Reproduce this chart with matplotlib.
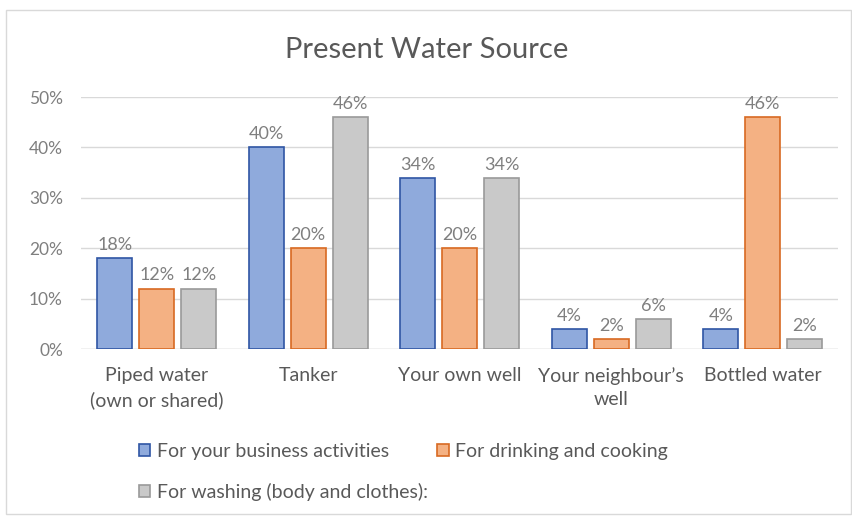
import matplotlib
matplotlib.use("Agg")
import matplotlib.pyplot as plt
from matplotlib.patches import Rectangle
import numpy as np

plt.rcParams['font.family'] = ['Lato', 'DejaVu Sans']

categories = ["Piped water\n(own or shared)", "Tanker", "Your own well", "Your neighbour\u2019s\nwell", "Bottled water"]
series_names = ["For your business activities", "For drinking and cooking", "For washing (body and clothes):"]
business = [18, 40, 34, 4, 4]
drinking = [12, 20, 20, 2, 46]
washing = [12, 46, 34, 6, 2]
yticks = [0, 10, 20, 30, 40, 50]
ytick_labels = ["0%", "10%", "20%", "30%", "40%", "50%"]
title = "Present Water Source"

fills = ["#8FAADC", "#F4B183", "#C9C9C9"]
edges = ["#2F55A4", "#D86A22", "#9A9A9A"]
txt = "#7F7F7F"

fig = plt.figure(figsize=(8.53, 5.20), dpi=100)
fig.patches.append(Rectangle((6/853, 6/520), 845/853, 504/520, transform=fig.transFigure,
                             fill=False, edgecolor="#D9D9D9", linewidth=1))
ax = fig.add_axes([81/853, 171/520, 757.5/853, 252/520])

x = np.arange(len(categories))
w = 0.231
step = 0.277
handles = []
for i, (vals, fc, ec, name) in enumerate(zip([business, drinking, washing], fills, edges, series_names)):
    bars = ax.bar(x + (i - 1) * step, vals, width=w, color=fc, edgecolor=ec, linewidth=1.2, label=name, zorder=3)
    handles.append(bars)
    for xi, v in zip(x + (i - 1) * step, vals):
        ax.text(xi, v + 1.0, f"{v}%", ha="center", va="bottom", fontsize=13, color=txt, zorder=4)

ax.set_xlim(-0.5, len(categories) - 0.5)
ax.set_ylim(0, 50)
ax.set_yticks(yticks)
ax.set_yticklabels(ytick_labels, fontsize=12.5, color=txt)
ax.set_xticks(x)
ax.set_xticklabels(categories, fontsize=14, color="#595959", linespacing=1.45)
ax.tick_params(axis="both", length=0)
ax.tick_params(axis="x", pad=13)
ax.tick_params(axis="y", pad=13)
ax.grid(axis="y", color="#D9D9D9", linewidth=1, zorder=0)
for s in ax.spines.values():
    s.set_visible(False)
ax.axhline(0, color="#D9D9D9", linewidth=1, zorder=2)

fig.text(0.5, 1 - 50/520, title, ha="center", va="center", fontsize=21, color="#595959")

order = [0, 2, 1]
fig.legend(handles=[handles[k] for k in order], labels=[series_names[k] for k in order],
           loc="upper left", bbox_to_anchor=(133/853, 1 - 437/520), ncol=2, frameon=False,
           fontsize=14, labelcolor="#595959", handlelength=0.57, handleheight=0.57,
           handletextpad=0.35, columnspacing=0.5, labelspacing=1.2, borderaxespad=0, borderpad=0.3)

fig.savefig("out.png", dpi=100)
